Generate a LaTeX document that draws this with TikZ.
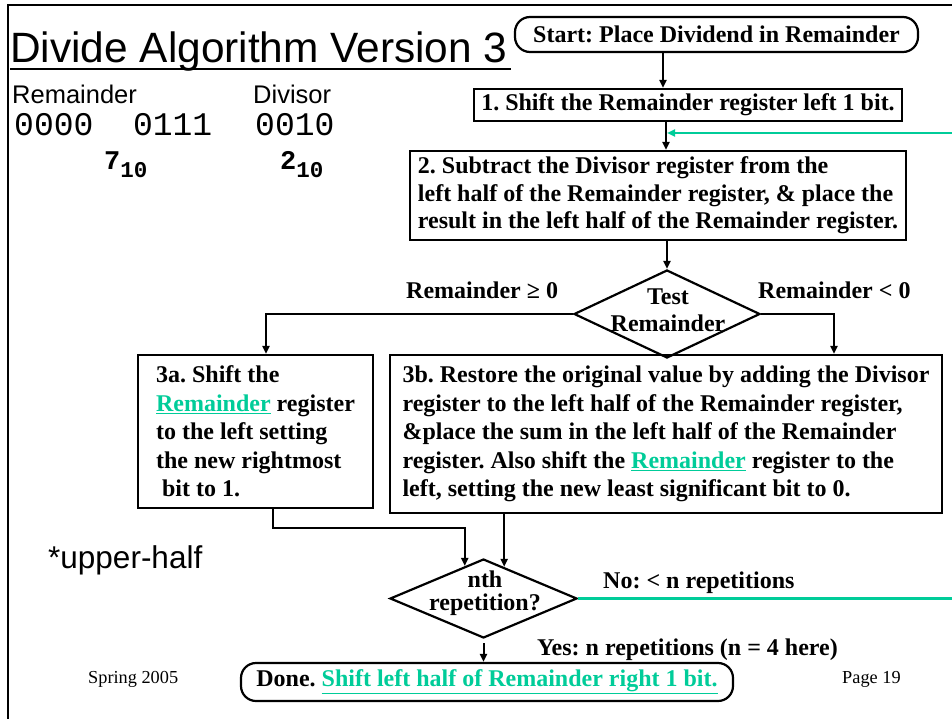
\documentclass[tikz,border=0pt]{standalone}
\usepackage{fontspec}
\setmainfont{Liberation Serif}
\newfontfamily\hvfont{Liberation Sans}
\newfontfamily\crfont{Liberation Mono}
\usetikzlibrary{arrows.meta,shapes.geometric,calc}
\definecolor{lnk}{RGB}{0,204,153}
\newcommand{\lk}[1]{\textcolor{lnk}{\underline{#1}}}
\frenchspacing
\begin{document}
\begin{tikzpicture}[x=1pt,y=-1pt,
  box/.style={draw, line width=2.2pt, inner sep=0pt, font=\fontsize{24}{27.5}\selectfont\bfseries},
  rbox/.style={box, rounded corners=15pt},
  dia/.style={draw, diamond, line width=2.2pt, inner sep=0pt},
  conn/.style={line width=2pt},
  arr/.style={conn, -{Triangle[length=8pt,width=7pt]}},
  garr/.style={line width=2.5pt, lnk, -{Triangle[length=8pt,width=7pt]}},
  gline/.style={line width=2.5pt, lnk},
  txt/.style={inner sep=0pt, anchor=base west},
  lbl/.style={txt, font=\fontsize{24}{27}\selectfont\bfseries},
]
\useasboundingbox (0,0) rectangle (952,719);
\fill[white] (0,0) rectangle (952,719);
\draw[line width=2.5pt] (8,719) -- (8,5) -- (952,5);

% left texts
\node[txt, font=\hvfont\fontsize{42.4}{48}\selectfont] (title) at (10,63) {Divide Algorithm Version 3};
\draw[line width=2.5pt] ([yshift=-6pt]title.base west) -- ([yshift=-6pt,xshift=3pt]title.base east);
\node[txt, font=\hvfont\fontsize{25.5}{28}\selectfont] (remlbl) at (12,104) {Remainder};
\node[txt, font=\hvfont\fontsize{25.5}{28}\selectfont] (divlbl) at (253,104) {Divisor};
\node[txt, font=\crfont\fontsize{33}{36}\selectfont] (rembits) at (14,136) {0000\ \ 0111};
\node[txt, font=\crfont\fontsize{33}{36}\selectfont] (divbits) at (255,136) {0010};
\node[txt, font=\crfont\bfseries\fontsize{27}{30}\selectfont] (remdec) at (104,170) {7\raisebox{-8pt}{\fontsize{22.5}{24}\selectfont 10}};
\node[txt, font=\crfont\bfseries\fontsize{27}{30}\selectfont] (divdec) at (280,170) {2\raisebox{-8pt}{\fontsize{22.5}{24}\selectfont 10}};
\node[txt, font=\hvfont\fontsize{31.5}{34}\selectfont] (upper) at (48,568) {*upper-half};
\node[txt, font=\fontsize{18.3}{20}\selectfont] (spring) at (88,683) {Spring 2005};
\node[txt, font=\fontsize{18.3}{20}\selectfont] (page) at (842,683) {Page 19};

% flow boxes
\node[rbox, minimum width=403pt, minimum height=35pt] (start) at (716.5,34.5) {Start: Place Dividend in Remainder};
\node[box, minimum width=428pt, minimum height=32pt] (s1) at (688,105) {1. Shift the Remainder register left 1 bit.};
\node[box, minimum width=496pt, minimum height=89pt, align=left] (s2) at (658,195.5)
  {2. Subtract the Divisor register from the\\left half of the Remainder register, \& place the\\result in the left half of the Remainder register.};
\node[dia, minimum width=186pt, minimum height=88pt] (test) at (667,314) {};
\node[lbl, anchor=center, align=center] (testtxt) at (668,310.5) {Test\\Remainder};
\node[box, minimum width=235pt, minimum height=153pt, align=left, font=\fontsize{24}{28.5}\selectfont\bfseries] (s3a) at (255.5,431.5)
  {3a. Shift the\\\lk{Remainder} register\\to the left setting\\the new rightmost\\\hspace*{6pt}bit to 1.};
\node[box, minimum width=552pt, minimum height=158pt, align=left, font=\fontsize{24}{28.5}\selectfont\bfseries] (s3b) at (666,434)
  {3b. Restore the original value by adding the Divisor\\register to the left half of the Remainder register,\\\&place the sum in the left half of the Remainder\\register. Also shift the \lk{Remainder} register to the\\left, setting the new least significant bit to 0.};
\node[dia, minimum width=187pt, minimum height=79pt] (rep) at (483.5,598.5) {};
\node[lbl, anchor=center, align=center, font=\fontsize{24}{23}\selectfont\bfseries] (reptxt) at (485,593) {nth\\repetition?};
\node[rbox, minimum width=492pt, minimum height=38pt] (done) at (487,682) {Done. \lk{Shift left half of Remainder right 1 bit.}};

% labels
\node[lbl] (ge) at (406,298) {Remainder ≥ 0};
\node[lbl] (lt) at (758,298) {Remainder < 0};
\node[lbl] (nolbl) at (603,588) {No: < n repetitions};
\node[lbl, anchor=base east] (yeslbl) at (838,655) {Yes: n repetitions (n = 4 here)};

% connectors
\coordinate (xa) at (663,0);
\coordinate (xb) at (666,0);
\coordinate (xl) at (266,0);
\coordinate (xr) at (834,0);
\coordinate (xd) at (273,0);
\coordinate (yd) at (0,528);
\coordinate (loopin) at (952,133);
\coordinate (noout) at (952,598.5);
\coordinate (ja) at ($(rep.north)!0.198!(rep.west)$);
\coordinate (jb) at ($(rep.north)!0.219!(rep.east)$);

\draw[arr] (start.south -| xa) -- (s1.north -| xa);
\draw[arr] (s1.south -| xb) -- (s2.north -| xb);
\draw[arr] (s2.south -| test.north) -- (test.north);
\draw[arr] (test.west) -| (xl |- s3a.north);
\draw[arr] (test.east) -| (xr |- s3b.north);
\draw[arr] (s3a.south -| xd) |- (yd -| ja) -- (ja);
\draw[arr] (s3b.south -| jb) -- (jb);
\draw[arr] ([yshift=-4pt]rep.south) -- (done.north -| rep.south);
\draw[gline] (rep.east) -- (noout);
\draw[garr] (loopin) -- ([xshift=1pt]loopin -| xb);
\end{tikzpicture}
\end{document}
